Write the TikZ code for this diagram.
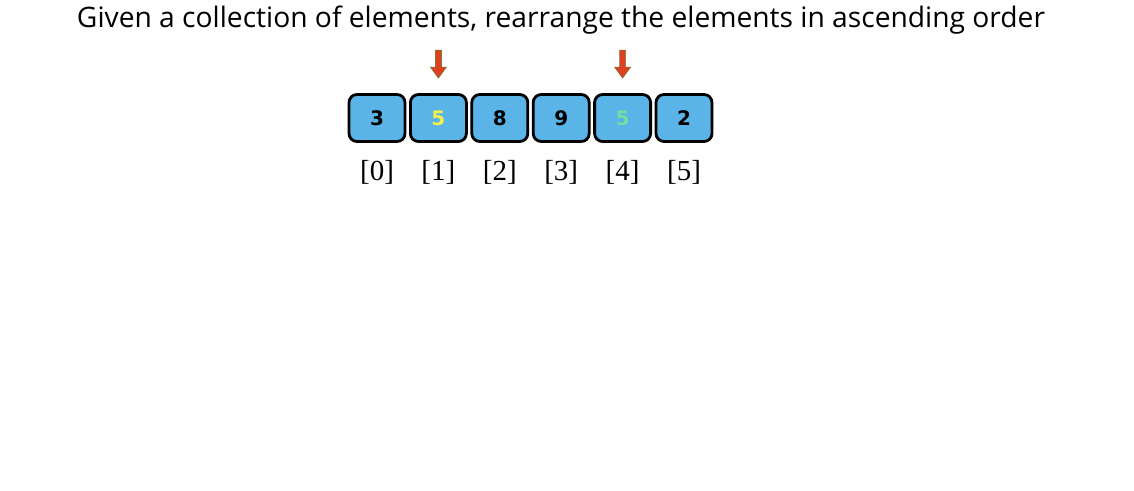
\documentclass[tikz,border=0pt]{standalone}
\usepackage{fontspec}
\setmainfont{Liberation Serif}
\newfontfamily\titlefont{Open Sans}
\newfontfamily\numfont{DejaVu Sans}
\definecolor{cellblue}{HTML}{5BB4E8}
\definecolor{arrred}{HTML}{E0401F}
\definecolor{arredge}{HTML}{7A7A3A}
\definecolor{numyellow}{HTML}{F2F24A}
\definecolor{numgreen}{HTML}{6EE0A0}
\begin{document}
\begin{tikzpicture}[x=1pt,y=-1pt,
  cell/.style={draw=black,line width=2.8pt,fill=cellblue,rounded corners=8pt,minimum width=56pt,minimum height=47pt,inner sep=0pt,font=\numfont\bfseries\fontsize{20}{20}\selectfont},
  idx/.style={font=\fontsize{29}{29}\selectfont,inner sep=0pt},
  downarrow/.style={fill=arrred,draw=arredge,line width=0.7pt}]
\useasboundingbox (0,0) rectangle (1134,490);
\node[inner sep=0pt] (title) at (561,20.5) {\resizebox{968pt}{!}{\titlefont\fontsize{27}{27}\selectfont Given a collection of elements, rearrange the elements in ascending order}};
\foreach \i/\v/\c in {0/3/black,1/5/numyellow,2/8/black,3/9/black,4/5/numgreen,5/2/black}{
  \node[cell,text=\c] (c\i) at (377+61.4*\i,118) {\v};
  \node[idx] (i\i) at (377+61.4*\i,172) {[\i]};
}
\foreach \i in {1,4}{
  \path (c\i.north) ++(0,-43) coordinate (t\i);
  \filldraw[downarrow] (t\i) ++(-3,0) -- ++(6,0) -- ++(0,17) -- ++(5,0) -- ++(-8,11) -- ++(-8,-11) -- ++(5,0) -- cycle;
}
\end{tikzpicture}
\end{document}
